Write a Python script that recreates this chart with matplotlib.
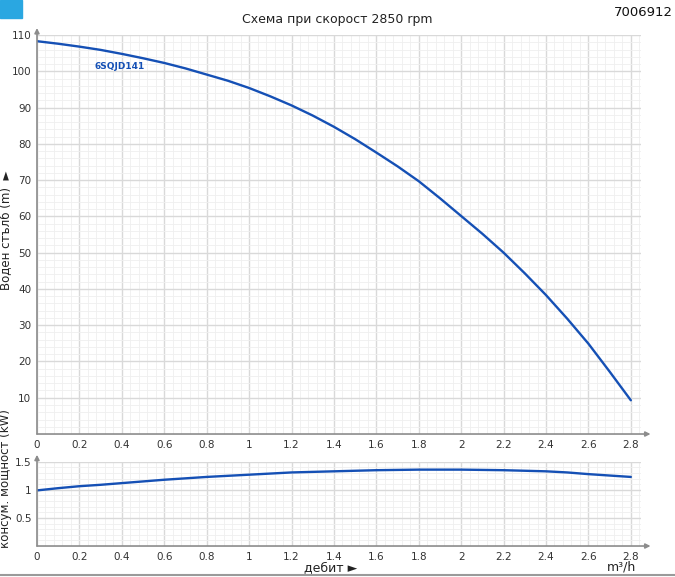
import numpy as np
import matplotlib.pyplot as plt
from matplotlib.ticker import MultipleLocator, FuncFormatter
from matplotlib.patches import Rectangle

# pump curve 6SQJD141 at 2850 rpm
flow = [0, 0.1, 0.2, 0.3, 0.4, 0.5, 0.6, 0.7, 0.8, 0.9, 1.0, 1.1, 1.2, 1.3, 1.4,
        1.5, 1.6, 1.7, 1.8, 1.9, 2.0, 2.1, 2.2, 2.3, 2.4, 2.5, 2.6, 2.7, 2.8]
head = [108.3, 107.6, 106.8, 105.9, 104.8, 103.6, 102.3, 100.8, 99.1, 97.4, 95.4,
        93.1, 90.6, 87.8, 84.7, 81.3, 77.6, 73.8, 69.7, 65.0, 60.1, 55.2, 50.0,
        44.3, 38.3, 31.8, 24.9, 17.2, 9.3]
power = [0.99, 1.03, 1.065, 1.09, 1.12, 1.15, 1.18, 1.205, 1.23, 1.25, 1.27, 1.29,
         1.31, 1.32, 1.33, 1.34, 1.35, 1.355, 1.36, 1.36, 1.36, 1.355, 1.35, 1.34,
         1.33, 1.31, 1.28, 1.255, 1.23]

model = '6SQJD141'
code = '7006912'
title = 'Схема при скорост 2850 rpm'

blue = '#1550b5'
plt.rcParams['font.family'] = ['DejaVu Sans']

fig = plt.figure(figsize=(6.75, 5.77), dpi=100)
ax1 = fig.add_axes([0.0548, 0.2478, 0.8955, 0.6915])
ax2 = fig.add_axes([0.0548, 0.0537, 0.8955, 0.146])

fmt = FuncFormatter(lambda v, p: ('%g' % round(v, 2)))


def style(ax, ymax, ymaj, ymin):
    ax.set_xlim(0, 2.85)
    ax.set_ylim(0, ymax)
    ax.xaxis.set_major_locator(MultipleLocator(0.2))
    ax.xaxis.set_minor_locator(MultipleLocator(0.04))
    ax.yaxis.set_major_locator(MultipleLocator(ymaj))
    ax.yaxis.set_minor_locator(MultipleLocator(ymin))
    ax.xaxis.set_major_formatter(fmt)
    ax.yaxis.set_major_formatter(fmt)
    ax.grid(which='major', color='#d9d9d9', lw=1.0)
    ax.grid(which='minor', color='#efefef', lw=0.6)
    ax.set_axisbelow(True)
    for s in ax.spines.values():
        s.set_visible(False)
    ax.tick_params(which='both', length=0, labelsize=7.5, colors='#333333', pad=4)
    # axes with arrows
    ax.annotate('', xy=(1.015, 0), xytext=(0, 0), xycoords='axes fraction',
                arrowprops=dict(arrowstyle='-|>', color='#8c8c8c', lw=1.2,
                                mutation_scale=7, shrinkA=0, shrinkB=0))
    ax.annotate('', xy=(0, 1.0 + 7 / (ax.get_position().height * 577)), xytext=(0, 0),
                xycoords='axes fraction',
                arrowprops=dict(arrowstyle='-|>', color='#8c8c8c', lw=1.2,
                                mutation_scale=7, shrinkA=0, shrinkB=0))


style(ax1, 110, 10, 2)
style(ax2, 1.5, 0.5, 0.1)

ax1.plot(flow, head, color=blue, lw=1.7, solid_capstyle='round')
ax2.plot(flow, power, color=blue, lw=1.7, solid_capstyle='round')

# hide the 0 on the y axes, keep it on x
ax1.set_yticks(np.arange(10, 111, 10))
ax2.set_yticks([0.5, 1.0, 1.5])

ax1.text(0.27, 101.2, model, color=blue, fontsize=6.5, fontweight='bold', va='center')

ax1.set_ylabel('Воден стълб (m)  ►', fontsize=8.5, color='#222222')
ax2.set_ylabel('консум. мощност (kW)', fontsize=8.5, color='#222222')
ax1.yaxis.set_label_coords(-0.041, 0.51)
ax2.yaxis.set_label_coords(-0.041, 0.8)

fig.text(0.49, 0.017, 'дебит ►', fontsize=9, color='#222222', ha='center', va='center')
fig.text(0.921, 0.017, 'm³/h', fontsize=9, color='#222222', ha='center', va='center')

fig.text(0.5, 0.967, title, fontsize=9, color='#222222', ha='center', va='center')
fig.text(0.997, 0.979, code, fontsize=9.5, color='#111111', ha='right', va='center')

fig.patches.append(Rectangle((0, 1 - 18 / 577), 22 / 675, 18 / 577,
                             transform=fig.transFigure, color='#2aa7e1'))
fig.lines.append(plt.Line2D([0, 1], [2 / 577, 2 / 577], transform=fig.transFigure,
                            color='#9a9a9a', lw=1.5))

fig.savefig('out.png', dpi=100)
